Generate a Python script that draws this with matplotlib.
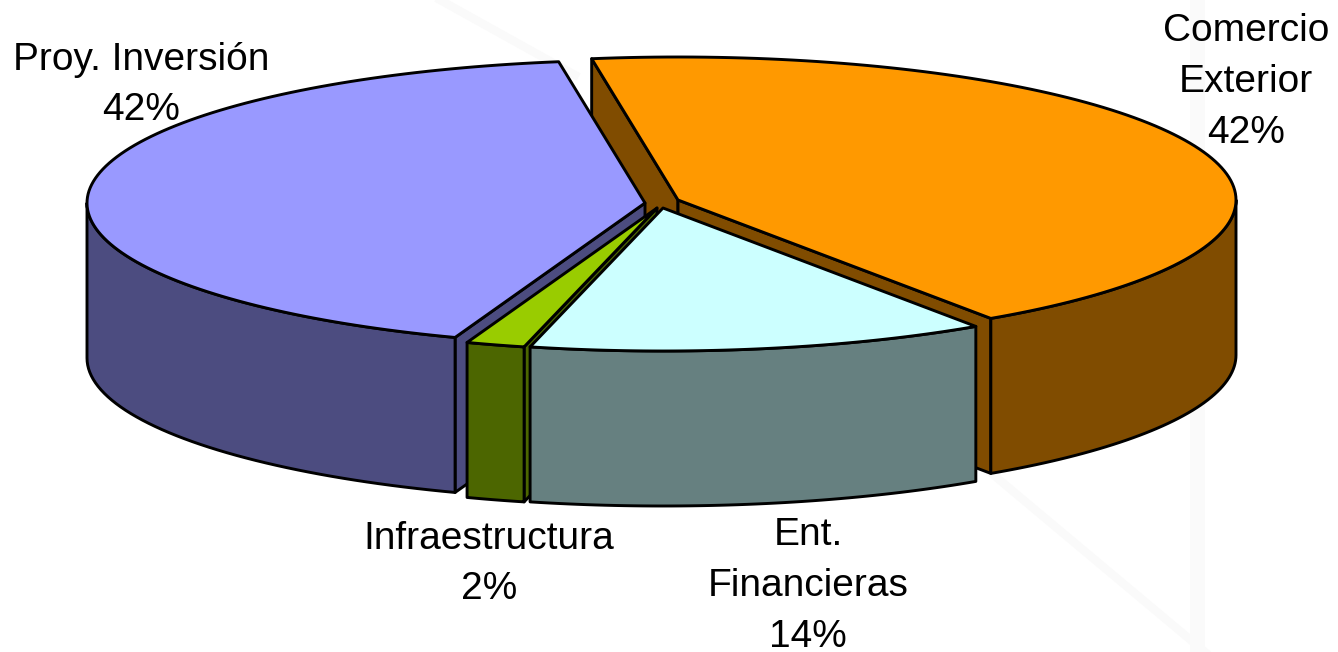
import numpy as np
from matplotlib import pyplot as plt
from matplotlib.patches import Polygon

# slice shares (labels are the rounded ones)
names = ['Comercio\nExterior', 'Ent.\nFinancieras', 'Infraestructura', 'Proy. Inversión']
percent = ['42%', '14%', '2%', '42%']
shares = [43.0, 13.3, 1.7, 42.0]

top_colors = ['#FF9900', '#CCFFFF', '#99CC00', '#9999FF']
side_colors = ['#804C00', '#668080', '#4C6600', '#4C4C80']

# pie layout in pixels
cx, cy = 660, 205
rx, ry = 558, 143
depth = 155
start_angle = 98.9
explode = [(18, -5), (3, 3), (-3, 3), (-15, -2)]
label_pos = [(1246, 82), (808, 586), (489, 564), (141, 85)]
draw_order = [0, 3, 2, 1]


def arc(x0, y0, a0, a1, n=50):
    t = np.radians(np.linspace(a0, a1, n))
    return np.column_stack([x0 + rx * np.cos(t), y0 - ry * np.sin(t)])


fig = plt.figure(figsize=(13.38, 6.52), dpi=100)
ax = fig.add_axes([0, 0, 1, 1])
ax.set_xlim(0, 1338)
ax.set_ylim(652, 0)
ax.axis('off')

# faint watermark behind the chart
ax.fill_between([1190, 1205], 0, 652, color='#fafafa', lw=0, zorder=0)
ax.plot([990, 1205], [472, 652], color='#fafafa', lw=6, zorder=0)
ax.plot([440, 575], [0, 75], color='#fafafa', lw=6, zorder=0)

ends = start_angle - np.cumsum(shares) * 3.6
starts = np.concatenate([[start_angle], ends[:-1]])

z = 1
for i in draw_order:
    x0 = cx + explode[i][0]
    y0 = cy + explode[i][1]
    a0, a1 = starts[i], ends[i]
    style = dict(edgecolor='black', lw=2.1, joinstyle='round')

    # cut faces, only the ones turned towards the viewer
    for a, normal in ((a0, a0 + 90), (a1, a1 - 90)):
        if np.sin(np.radians(normal)) < 0:
            p = arc(x0, y0, a, a, 1)[0]
            face = [(x0, y0), p, (p[0], p[1] + depth), (x0, y0 + depth)]
            ax.add_patch(Polygon(face, facecolor=side_colors[i], zorder=z, **style))

    # outer wall, front half only
    v0, v1 = min(a0, 0), max(a1, -180)
    if v0 > v1:
        upper = arc(x0, y0, v0, v1)
        lower = arc(x0, y0 + depth, v1, v0)
        ax.add_patch(Polygon(np.vstack([upper, lower]), facecolor=side_colors[i], zorder=z, **style))

    # top
    top = np.vstack([[(x0, y0)], arc(x0, y0, a0, a1, 120)])
    ax.add_patch(Polygon(top, facecolor=top_colors[i], zorder=z, **style))
    z += 1

for i in range(len(names)):
    ax.text(label_pos[i][0], label_pos[i][1], names[i] + '\n' + percent[i],
            ha='center', va='center', fontsize=28, family='Liberation Sans',
            color='black', linespacing=1.52, zorder=10)

fig.savefig('out.png', dpi=100)
